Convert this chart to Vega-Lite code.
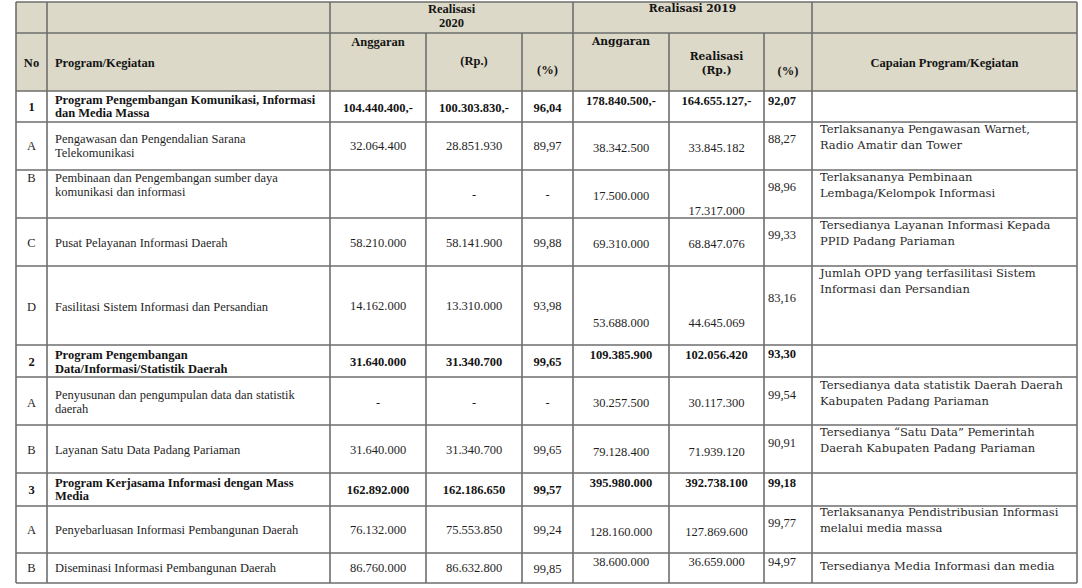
{
  "$schema": "https://vega.github.io/schema/vega-lite/v6.json",
  "width": 1082,
  "height": 588,
  "padding": 0,
  "autosize": {"type": "none"},
  "background": "white",
  "config": {"view": {"stroke": null}},
  "datasets": {
    "columns": [
      {"col": "no", "mid": 0.5, "left": 0.26},
      {"col": "prog", "mid": 1.5, "left": 1.028},
      {"col": "a20", "mid": 2.5, "left": 2.05},
      {"col": "r20", "mid": 3.5, "left": 3.05},
      {"col": "p20", "mid": 4.5, "left": 4.05},
      {"col": "a19", "mid": 5.5, "left": 5.05},
      {"col": "r19", "mid": 6.5, "left": 6.05},
      {"col": "p19", "mid": 7.5, "left": 7.083},
      {"col": "cap", "mid": 8.5, "left": 8.03},
      {"col": "g20", "mid": 3.266, "left": 2.05},
      {"col": "g19", "mid": 6.247, "left": 5.05}
    ],
    "hlines": [
      {"b": 0}, {"b": 1}, {"b": 2}, {"b": 3}, {"b": 4}, {"b": 5}, {"b": 6},
      {"b": 7}, {"b": 8}, {"b": 9}, {"b": 10}, {"b": 11}, {"b": 12}, {"b": 13}
    ],
    "vlines": [
      {"b": 0, "from": 0}, {"b": 1, "from": 0}, {"b": 2, "from": 0},
      {"b": 3, "from": 1}, {"b": 4, "from": 1}, {"b": 5, "from": 0},
      {"b": 6, "from": 1}, {"b": 7, "from": 1}, {"b": 8, "from": 0}, {"b": 9, "from": 0}
    ],
    "cells": [
      {"col": "g20", "lvl": "h", "y": 0.226, "t": "Realisasi\n2020"},
      {"col": "g19", "lvl": "h2", "y": 0.226, "t": "Realisasi 2019"},
      {"col": "no", "lvl": "h", "y": 1.517, "t": "No"},
      {"col": "prog", "lvl": "h", "y": 1.517, "t": "Program/Kegiatan"},
      {"col": "a20", "lvl": "h", "y": 1.155, "t": "Anggaran"},
      {"col": "r20", "lvl": "h", "y": 1.483, "t": "(Rp.)"},
      {"col": "p20", "lvl": "h", "y": 1.638, "t": "(%)"},
      {"col": "a19", "lvl": "h2", "y": 1.155, "t": "Anggaran"},
      {"col": "r19", "lvl": "h2", "y": 1.414, "t": "Realisasi\n(Rp.)"},
      {"col": "p19", "lvl": "h", "y": 1.655, "t": "(%)"},
      {"col": "cap", "lvl": "h", "y": 1.517, "t": "Capaian Program/Kegiatan"},

      {"col": "no", "lvl": "p", "y": 2.516, "t": "1"},
      {"col": "prog", "lvl": "p", "y": 2.29, "t": "Program Pengembangan Komunikasi, Informasi\ndan Media Massa"},
      {"col": "a20", "lvl": "p", "y": 2.548, "t": "104.440.400,-"},
      {"col": "r20", "lvl": "p", "y": 2.548, "t": "100.303.830,-"},
      {"col": "p20", "lvl": "p", "y": 2.548, "t": "96,04"},
      {"col": "a19", "lvl": "p", "y": 2.323, "t": "178.840.500,-"},
      {"col": "r19", "lvl": "p", "y": 2.323, "t": "164.655.127,-"},
      {"col": "p19", "lvl": "p", "y": 2.323, "t": "92,07"},

      {"col": "no", "lvl": "k", "y": 3.5, "t": "A"},
      {"col": "prog", "lvl": "k", "y": 3.354, "t": "Pengawasan dan Pengendalian Sarana\nTelekomunikasi"},
      {"col": "a20", "lvl": "k", "y": 3.5, "t": "32.064.400"},
      {"col": "r20", "lvl": "k", "y": 3.5, "t": "28.851.930"},
      {"col": "p20", "lvl": "k", "y": 3.5, "t": "89,97"},
      {"col": "a19", "lvl": "k", "y": 3.542, "t": "38.342.500"},
      {"col": "r19", "lvl": "k", "y": 3.542, "t": "33.845.182"},
      {"col": "p19", "lvl": "k", "y": 3.354, "t": "88,27"},
      {"col": "cap", "lvl": "k", "y": 3.167, "t": "Terlaksananya Pengawasan Warnet,\nRadio Amatir dan Tower"},

      {"col": "no", "lvl": "k", "y": 4.167, "t": "B"},
      {"col": "prog", "lvl": "k", "y": 4.167, "t": "Pembinaan dan Pengembangan sumber daya\nkomunikasi dan informasi"},
      {"col": "r20", "lvl": "k", "y": 4.521, "t": "-"},
      {"col": "p20", "lvl": "k", "y": 4.521, "t": "-"},
      {"col": "a19", "lvl": "k", "y": 4.542, "t": "17.500.000"},
      {"col": "r19", "lvl": "k", "y": 4.854, "t": "17.317.000"},
      {"col": "p19", "lvl": "k", "y": 4.354, "t": "98,96"},
      {"col": "cap", "lvl": "k", "y": 4.167, "t": "Terlaksananya Pembinaan\nLembaga/Kelompok Informasi"},

      {"col": "no", "lvl": "k", "y": 5.521, "t": "C"},
      {"col": "prog", "lvl": "k", "y": 5.521, "t": "Pusat Pelayanan Informasi Daerah"},
      {"col": "a20", "lvl": "k", "y": 5.521, "t": "58.210.000"},
      {"col": "r20", "lvl": "k", "y": 5.521, "t": "58.141.900"},
      {"col": "p20", "lvl": "k", "y": 5.521, "t": "99,88"},
      {"col": "a19", "lvl": "k", "y": 5.542, "t": "69.310.000"},
      {"col": "r19", "lvl": "k", "y": 5.542, "t": "68.847.076"},
      {"col": "p19", "lvl": "k", "y": 5.354, "t": "99,33"},
      {"col": "cap", "lvl": "k", "y": 5.167, "t": "Tersedianya Layanan Informasi Kepada\nPPID Padang Pariaman"},

      {"col": "no", "lvl": "k", "y": 6.519, "t": "D"},
      {"col": "prog", "lvl": "k", "y": 6.519, "t": "Fasilitasi Sistem Informasi dan Persandian"},
      {"col": "a20", "lvl": "k", "y": 6.506, "t": "14.162.000"},
      {"col": "r20", "lvl": "k", "y": 6.506, "t": "13.310.000"},
      {"col": "p20", "lvl": "k", "y": 6.506, "t": "93,98"},
      {"col": "a19", "lvl": "k", "y": 6.722, "t": "53.688.000"},
      {"col": "r19", "lvl": "k", "y": 6.722, "t": "44.645.069"},
      {"col": "p19", "lvl": "k", "y": 6.405, "t": "83,16"},
      {"col": "cap", "lvl": "k", "y": 6.101, "t": "Jumlah OPD yang terfasilitasi Sistem\nInformasi dan Persandian"},

      {"col": "no", "lvl": "p", "y": 7.531, "t": "2"},
      {"col": "prog", "lvl": "p", "y": 7.328, "t": "Program Pengembangan\nData/Informasi/Statistik Daerah"},
      {"col": "a20", "lvl": "p", "y": 7.531, "t": "31.640.000"},
      {"col": "r20", "lvl": "p", "y": 7.531, "t": "31.340.700"},
      {"col": "p20", "lvl": "p", "y": 7.531, "t": "99,65"},
      {"col": "a19", "lvl": "p", "y": 7.313, "t": "109.385.900"},
      {"col": "r19", "lvl": "p", "y": 7.313, "t": "102.056.420"},
      {"col": "p19", "lvl": "p", "y": 7.281, "t": "93,30"},

      {"col": "no", "lvl": "k", "y": 8.542, "t": "A"},
      {"col": "prog", "lvl": "k", "y": 8.375, "t": "Penyusunan dan pengumpulan data dan statistik\ndaerah"},
      {"col": "a20", "lvl": "k", "y": 8.542, "t": "-"},
      {"col": "r20", "lvl": "k", "y": 8.542, "t": "-"},
      {"col": "p20", "lvl": "k", "y": 8.542, "t": "-"},
      {"col": "a19", "lvl": "k", "y": 8.542, "t": "30.257.500"},
      {"col": "r19", "lvl": "k", "y": 8.542, "t": "30.117.300"},
      {"col": "p19", "lvl": "k", "y": 8.375, "t": "99,54"},
      {"col": "cap", "lvl": "k", "y": 8.188, "t": "Tersedianya data statistik Daerah Daerah\nKabupaten Padang Pariaman"},

      {"col": "no", "lvl": "k", "y": 9.521, "t": "B"},
      {"col": "prog", "lvl": "k", "y": 9.521, "t": "Layanan Satu Data Padang Pariaman"},
      {"col": "a20", "lvl": "k", "y": 9.521, "t": "31.640.000"},
      {"col": "r20", "lvl": "k", "y": 9.521, "t": "31.340.700"},
      {"col": "p20", "lvl": "k", "y": 9.521, "t": "99,65"},
      {"col": "a19", "lvl": "k", "y": 9.563, "t": "79.128.400"},
      {"col": "r19", "lvl": "k", "y": 9.563, "t": "71.939.120"},
      {"col": "p19", "lvl": "k", "y": 9.375, "t": "90,91"},
      {"col": "cap", "lvl": "k", "y": 9.167, "t": "Tersedianya “Satu Data” Pemerintah\nDaerah Kabupaten Padang Pariaman"},

      {"col": "no", "lvl": "p", "y": 10.515, "t": "3"},
      {"col": "prog", "lvl": "p", "y": 10.303, "t": "Program Kerjasama Informasi dengan Mass\nMedia"},
      {"col": "a20", "lvl": "p", "y": 10.515, "t": "162.892.000"},
      {"col": "r20", "lvl": "p", "y": 10.515, "t": "162.186.650"},
      {"col": "p20", "lvl": "p", "y": 10.515, "t": "99,57"},
      {"col": "a19", "lvl": "p", "y": 10.303, "t": "395.980.000"},
      {"col": "r19", "lvl": "p", "y": 10.303, "t": "392.738.100"},
      {"col": "p19", "lvl": "p", "y": 10.303, "t": "99,18"},

      {"col": "no", "lvl": "k", "y": 11.511, "t": "A"},
      {"col": "prog", "lvl": "k", "y": 11.511, "t": "Penyebarluasan Informasi Pembangunan Daerah"},
      {"col": "a20", "lvl": "k", "y": 11.511, "t": "76.132.000"},
      {"col": "r20", "lvl": "k", "y": 11.511, "t": "75.553.850"},
      {"col": "p20", "lvl": "k", "y": 11.511, "t": "99,24"},
      {"col": "a19", "lvl": "k", "y": 11.553, "t": "128.160.000"},
      {"col": "r19", "lvl": "k", "y": 11.553, "t": "127.869.600"},
      {"col": "p19", "lvl": "k", "y": 11.362, "t": "99,77"},
      {"col": "cap", "lvl": "k", "y": 11.149, "t": "Terlaksananya Pendistribusian Informasi\nmelalui media massa"},

      {"col": "no", "lvl": "k", "y": 12.5, "t": "B"},
      {"col": "prog", "lvl": "k", "y": 12.5, "t": "Diseminasi Informasi Pembangunan Daerah"},
      {"col": "a20", "lvl": "k", "y": 12.5, "t": "86.760.000"},
      {"col": "r20", "lvl": "k", "y": 12.5, "t": "86.632.800"},
      {"col": "p20", "lvl": "k", "y": 12.533, "t": "99,85"},
      {"col": "a19", "lvl": "k", "y": 12.3, "t": "38.600.000"},
      {"col": "r19", "lvl": "k", "y": 12.3, "t": "36.659.000"},
      {"col": "p19", "lvl": "k", "y": 12.3, "t": "94,97"},
      {"col": "cap", "lvl": "k", "y": 12.467, "t": "Tersedianya Media Informasi dan media"}
    ]
  },
  "layer": [
    {
      "data": {"values": [{"part": "header"}]},
      "mark": {"type": "rect", "fill": "#dcd9c8"},
      "encoding": {
        "x": {"datum": 0, "type": "quantitative", "axis": null,
              "scale": {"type": "linear", "domain": [0, 1, 2, 3, 4, 5, 6, 7, 8, 9],
                        "range": [16, 47, 330, 426, 522, 573, 669, 764, 812, 1077], "nice": false, "zero": false}},
        "x2": {"datum": 9},
        "y": {"datum": 0, "type": "quantitative", "axis": null,
              "scale": {"type": "linear", "domain": [0, 1, 2, 3, 4, 5, 6, 7, 8, 9, 10, 11, 12, 13],
                        "range": [2, 33, 91, 122, 170, 218, 266, 345, 377, 425, 473, 506, 553, 583], "nice": false, "zero": false}},
        "y2": {"datum": 2}
      }
    },
    {
      "data": {"name": "hlines"},
      "mark": {"type": "rule", "color": "#6e6e6e", "strokeWidth": 1.6},
      "encoding": {
        "x": {"datum": 0, "type": "quantitative", "axis": null},
        "x2": {"datum": 9},
        "y": {"field": "b", "type": "quantitative", "axis": null}
      }
    },
    {
      "data": {"name": "vlines"},
      "mark": {"type": "rule", "color": "#6e6e6e", "strokeWidth": 1.6},
      "encoding": {
        "x": {"field": "b", "type": "quantitative", "axis": null},
        "y": {"field": "from", "type": "quantitative", "axis": null},
        "y2": {"datum": 13}
      }
    },
    {
      "data": {"name": "cells"},
      "transform": [
        {"lookup": "col", "from": {"data": {"name": "columns"}, "key": "col", "fields": ["mid", "left"]}}
      ],
      "layer": [
        {
          "transform": [{"filter": {"and": [{"field": "lvl", "equal": "k"}, {"field": "col", "oneOf": ["no", "a20", "r20", "p20", "a19", "r19"]}]}}],
          "mark": {"type": "text", "font": "Liberation Serif", "fontSize": 12.5, "align": "center", "baseline": "middle", "color": "#1f1f1f"},
          "encoding": {
            "x": {"field": "mid", "type": "quantitative", "axis": null},
            "y": {"field": "y", "type": "quantitative", "axis": null},
            "text": {"field": "t"}
          }
        },
        {
          "transform": [{"filter": {"or": [
            {"and": [{"field": "lvl", "equal": "p"}, {"field": "col", "oneOf": ["no", "a20", "r20", "p20", "a19", "r19"]}]},
            {"and": [{"field": "lvl", "equal": "h"}, {"not": {"field": "col", "equal": "prog"}}]}
          ]}}],
          "mark": {"type": "text", "font": "Liberation Serif", "fontSize": 12.5, "fontWeight": "bold", "align": "center", "baseline": "middle", "color": "#141414", "lineBreak": "\n", "lineHeight": 13.5},
          "encoding": {
            "x": {"field": "mid", "type": "quantitative", "axis": null},
            "y": {"field": "y", "type": "quantitative", "axis": null},
            "text": {"field": "t"}
          }
        },
        {
          "transform": [{"filter": {"and": [{"field": "lvl", "equal": "k"}, {"field": "col", "oneOf": ["prog", "p19"]}]}}],
          "mark": {"type": "text", "font": "Liberation Serif", "fontSize": 12.5, "align": "left", "baseline": "middle", "color": "#1f1f1f", "lineBreak": "\n", "lineHeight": 14},
          "encoding": {
            "x": {"field": "left", "type": "quantitative", "axis": null},
            "y": {"field": "y", "type": "quantitative", "axis": null},
            "text": {"field": "t"}
          }
        },
        {
          "transform": [{"filter": {"or": [
            {"and": [{"field": "lvl", "equal": "p"}, {"field": "col", "oneOf": ["prog", "p19"]}]},
            {"and": [{"field": "lvl", "equal": "h"}, {"field": "col", "equal": "prog"}]}
          ]}}],
          "mark": {"type": "text", "font": "Liberation Serif", "fontSize": 12.5, "fontWeight": "bold", "align": "left", "baseline": "middle", "color": "#141414", "lineBreak": "\n", "lineHeight": 13.5},
          "encoding": {
            "x": {"field": "left", "type": "quantitative", "axis": null},
            "y": {"field": "y", "type": "quantitative", "axis": null},
            "text": {"field": "t"}
          }
        },
        {
          "transform": [{"filter": {"field": "lvl", "equal": "h2"}}],
          "mark": {"type": "text", "font": "DejaVu Serif", "fontSize": 10.7, "fontWeight": "bold", "align": "center", "baseline": "middle", "color": "#141414", "lineBreak": "\n", "lineHeight": 14},
          "encoding": {
            "x": {"field": "mid", "type": "quantitative", "axis": null},
            "y": {"field": "y", "type": "quantitative", "axis": null},
            "text": {"field": "t"}
          }
        },
        {
          "transform": [{"filter": {"and": [{"field": "lvl", "equal": "k"}, {"field": "col", "equal": "cap"}]}}],
          "mark": {"type": "text", "font": "DejaVu Serif", "fontSize": 11.5, "align": "left", "baseline": "middle", "color": "#2a2a2a", "lineBreak": "\n", "lineHeight": 16},
          "encoding": {
            "x": {"field": "left", "type": "quantitative", "axis": null},
            "y": {"field": "y", "type": "quantitative", "axis": null},
            "text": {"field": "t"}
          }
        }
      ]
    }
  ]
}
